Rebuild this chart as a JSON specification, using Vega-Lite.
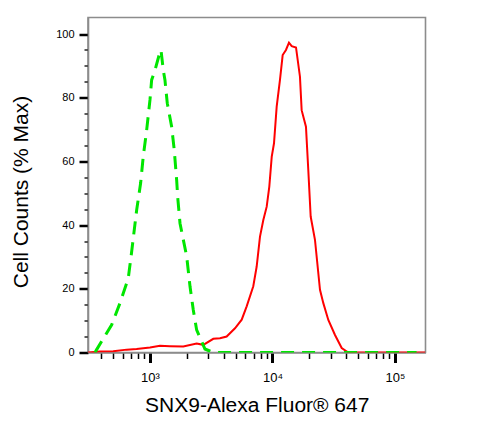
{
  "$schema": "https://vega.github.io/schema/vega-lite/v6.json",
  "autosize": "none",
  "width": 337.5,
  "height": 335,
  "padding": {"left": 88, "top": 17.5, "right": 54.5, "bottom": 69.3},
  "background": "white",
  "config": {
    "view": {"stroke": "#8c8c8c", "strokeWidth": 1.6},
    "font": "Liberation Sans",
    "axis": {"domainColor": "#8c8c8c", "domainWidth": 1.6, "tickColor": "black", "grid": false, "labelColor": "black", "titleColor": "black", "titleFontWeight": "normal"}
  },
  "datasets": {
    "control": [
      {"fl": 356, "pct": 0},
      {"fl": 367, "pct": 0.9},
      {"fl": 487, "pct": 8.7},
      {"fl": 569, "pct": 15.5},
      {"fl": 665, "pct": 23.3},
      {"fl": 709, "pct": 31.7},
      {"fl": 779, "pct": 44.8},
      {"fl": 839, "pct": 53.2},
      {"fl": 881, "pct": 61.5},
      {"fl": 940, "pct": 69.9},
      {"fl": 1000, "pct": 79.3},
      {"fl": 1032, "pct": 85.6},
      {"fl": 1099, "pct": 88.7},
      {"fl": 1207, "pct": 94.4},
      {"fl": 1230, "pct": 95},
      {"fl": 1284, "pct": 88.7},
      {"fl": 1325, "pct": 85.6},
      {"fl": 1384, "pct": 78.3},
      {"fl": 1503, "pct": 70.9},
      {"fl": 1578, "pct": 63.6},
      {"fl": 1651, "pct": 54.2},
      {"fl": 1683, "pct": 48.9},
      {"fl": 1758, "pct": 40.6},
      {"fl": 1995, "pct": 30.1},
      {"fl": 2123, "pct": 20.7},
      {"fl": 2256, "pct": 13.4},
      {"fl": 2404, "pct": 7.1},
      {"fl": 2810, "pct": 1.1},
      {"fl": 3289, "pct": 0},
      {"fl": 10000, "pct": 0},
      {"fl": 150000, "pct": 0}
    ],
    "snx9": [
      {"fl": 313, "pct": 0},
      {"fl": 391, "pct": 0.3},
      {"fl": 501, "pct": 0.4},
      {"fl": 645, "pct": 0.9},
      {"fl": 778, "pct": 1.1},
      {"fl": 1000, "pct": 1.6},
      {"fl": 1207, "pct": 2.1},
      {"fl": 1456, "pct": 2.0},
      {"fl": 1870, "pct": 1.9},
      {"fl": 2404, "pct": 2.8},
      {"fl": 2725, "pct": 2.4},
      {"fl": 3288, "pct": 4.3},
      {"fl": 3726, "pct": 4.5},
      {"fl": 4226, "pct": 5.0},
      {"fl": 4942, "pct": 7.6},
      {"fl": 5608, "pct": 10.3},
      {"fl": 6156, "pct": 14.5},
      {"fl": 6970, "pct": 20.8},
      {"fl": 7430, "pct": 27.0},
      {"fl": 7907, "pct": 36.4},
      {"fl": 8417, "pct": 41.6},
      {"fl": 8970, "pct": 45.8},
      {"fl": 9420, "pct": 52.1},
      {"fl": 9860, "pct": 61.5},
      {"fl": 10290, "pct": 65.7},
      {"fl": 10820, "pct": 77.2},
      {"fl": 11510, "pct": 85.6},
      {"fl": 12110, "pct": 93.4},
      {"fl": 12880, "pct": 95.0},
      {"fl": 13630, "pct": 97.3},
      {"fl": 14350, "pct": 96.2},
      {"fl": 15560, "pct": 95.8},
      {"fl": 16760, "pct": 86.6},
      {"fl": 17300, "pct": 76.1},
      {"fl": 18760, "pct": 70.9},
      {"fl": 19600, "pct": 57.3},
      {"fl": 20500, "pct": 42.7},
      {"fl": 22220, "pct": 35.4},
      {"fl": 24420, "pct": 19.7},
      {"fl": 26000, "pct": 15.5},
      {"fl": 28560, "pct": 10.2},
      {"fl": 32380, "pct": 5.5},
      {"fl": 36720, "pct": 1.4},
      {"fl": 41590, "pct": 0},
      {"fl": 45710, "pct": 0},
      {"fl": 177000, "pct": 0}
    ]
  },
  "encoding": {
    "x": {
      "field": "fl",
      "type": "quantitative",
      "scale": {"type": "log", "domain": [312, 177400], "nice": false},
      "axis": {
        "title": "SNX9-Alexa Fluor® 647",
        "titleFontSize": 21,
        "titleY": 59,
        "titleBaseline": "alphabetic",
        "values": [400, 500, 600, 700, 800, 900, 1000, 2000, 3000, 4000, 5000, 6000, 7000, 8000, 9000, 10000, 20000, 30000, 40000, 50000, 60000, 70000, 80000, 90000, 100000],
        "labelExpr": "datum.value == 1000 ? '10³' : datum.value == 10000 ? '10⁴' : datum.value == 100000 ? '10⁵' : ''",
        "labelFontSize": 13,
        "labelPadding": 9,
        "labelFlush": false,
        "labelOverlap": false,
        "tickSize": {"condition": {"test": "datum.value == 1000 || datum.value == 10000 || datum.value == 100000", "value": 10}, "value": 6},
        "tickWidth": {"condition": {"test": "datum.value == 1000 || datum.value == 10000 || datum.value == 100000", "value": 3}, "value": 1.5}
      }
    },
    "y": {
      "field": "pct",
      "type": "quantitative",
      "scale": {"domain": [0, 105.2], "nice": false},
      "axis": {
        "title": "Cell Counts (% Max)",
        "titleFontSize": 21,
        "titleX": -67,
        "titleY": 174,
        "titleBaseline": "middle",
        "titleAngle": 270,
        "values": [0, 5, 10, 15, 20, 25, 30, 35, 40, 45, 50, 55, 60, 65, 70, 75, 80, 85, 90, 95, 100],
        "labelExpr": "datum.value % 20 == 0 ? datum.label : ''",
        "labelFontSize": 11,
        "labelPadding": 5,
        "labelFlush": false,
        "labelOverlap": false,
        "tickSize": {"condition": {"test": "datum.value % 20 == 0", "value": 9}, "value": 4},
        "tickWidth": {"condition": {"test": "datum.value % 20 == 0", "value": 2.5}, "value": 1.3}
      }
    }
  },
  "layer": [
    {
      "data": {"name": "snx9"},
      "mark": {"type": "line", "color": "#ff0000", "strokeWidth": 2, "clip": true}
    },
    {
      "data": {"name": "control"},
      "mark": {"type": "line", "color": "#00e600", "strokeWidth": 3, "strokeDash": [13, 8], "clip": true}
    }
  ]
}
